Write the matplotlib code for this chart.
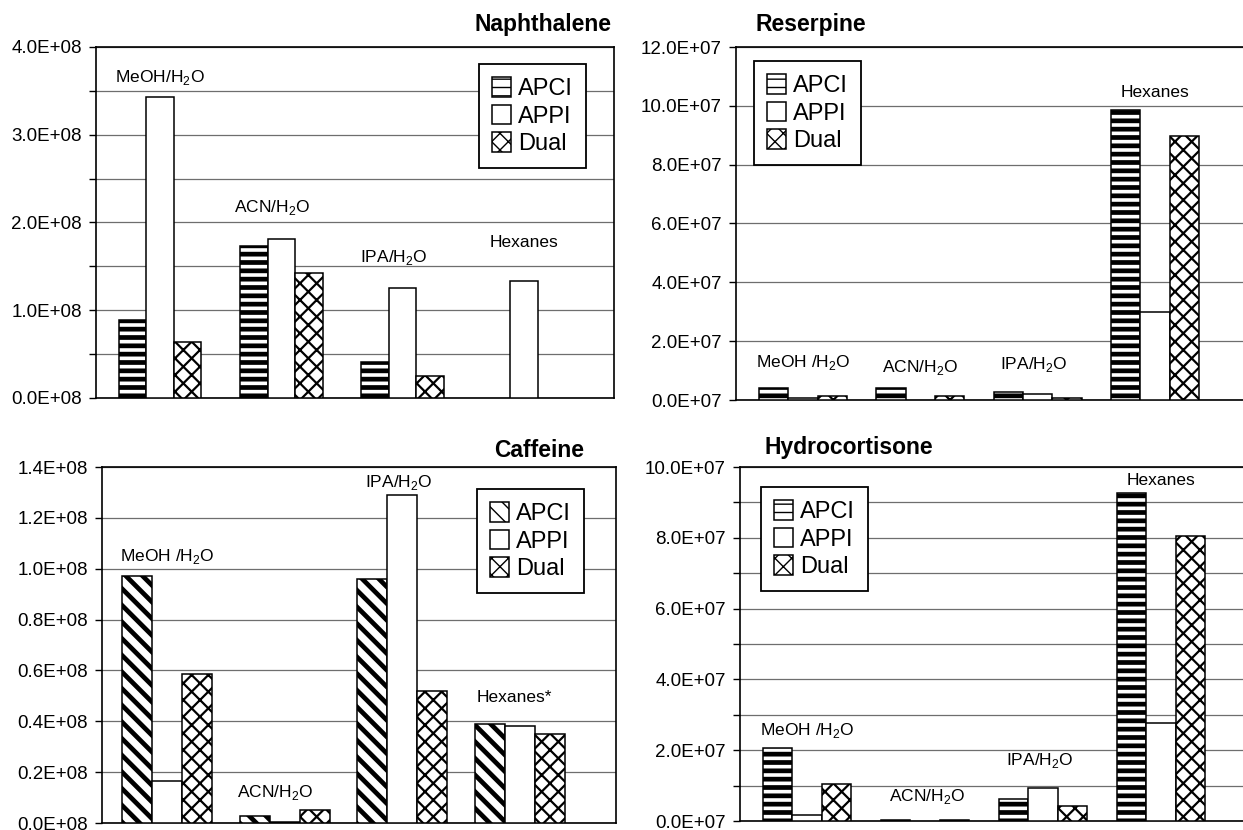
import matplotlib
matplotlib.use("Agg")
import matplotlib.pyplot as plt
import numpy as np

plt.rcParams["font.family"] = ["Liberation Sans", "DejaVu Sans"]
plt.rcParams["mathtext.fontset"] = "custom"
plt.rcParams["mathtext.rm"] = "Liberation Sans"
plt.rcParams["hatch.color"] = "black"

W, H = 1243, 830

# --- data (signal intensity per solvent system) ---
solvents = ["MeOH", "ACN", "IPA", "Hexanes"]
sources = ["APCI", "APPI", "Dual"]

naph_apci = [0.89e8, 1.73e8, 0.41e8, 0.0]
naph_appi = [3.43e8, 1.81e8, 1.25e8, 1.33e8]
naph_dual = [0.64e8, 1.42e8, 0.25e8, 0.0]

res_apci = [0.40e7, 0.40e7, 0.26e7, 9.86e7]
res_appi = [0.06e7, 0.0, 0.21e7, 3.0e7]
res_dual = [0.12e7, 0.12e7, 0.08e7, 8.97e7]

caf_apci = [0.97e8, 0.029e8, 0.96e8, 0.39e8]
caf_appi = [0.166e8, 0.002e8, 1.29e8, 0.383e8]
caf_dual = [0.587e8, 0.052e8, 0.52e8, 0.35e8]

hyd_apci = [2.05e7, 0.04e7, 0.61e7, 9.26e7]
hyd_appi = [0.17e7, 0.0, 0.93e7, 2.77e7]
hyd_dual = [1.04e7, 0.03e7, 0.42e7, 8.04e7]


def solvent_label(name, space=False):
    if name == "Hexanes":
        return name
    sep = " /" if space else "/"
    return name + sep + r"H$_\mathregular{2}$O"


def px_axes(fig, left, right, top, bottom):
    return fig.add_axes([left / W, 1 - bottom / H, (right - left) / W, (bottom - top) / H])


def draw_panel(ax, series, apci_hatch, width, xlim, ymax, ystep, label_every, exp,
               labels, label_pos, legend_xy, right_spine=True):
    x = np.arange(len(solvents))
    hatches = [apci_hatch, "", "xx"]
    lws = [3.4, 1.0, 1.6]
    for i, (vals, name) in enumerate(zip(series, sources)):
        vals = np.asarray(vals, dtype=float)
        bars = ax.bar(x + (i - 1) * width, vals, width, color="white", edgecolor="black",
                      linewidth=1.1, hatch=hatches[i], label=name, zorder=3)
        for b, v in zip(bars, vals):
            if hasattr(b, "set_hatch_linewidth"):
                b.set_hatch_linewidth(lws[i])
            if v == 0:
                b.set_visible(False)
    ax.set_xlim(*xlim)
    ax.set_ylim(0, ymax)
    ticks = np.arange(0, ymax + ystep / 2, ystep)
    ax.set_yticks(ticks)
    scale = 10.0 ** exp
    tl = []
    for k, t in enumerate(ticks):
        if k % label_every == 0:
            tl.append(f"{t / scale:.1f}E+{exp:02d}")
        else:
            tl.append("")
    ax.set_yticklabels(tl)
    ax.set_xticks([])
    ax.grid(axis="y", color="#6e6e6e", linewidth=0.9, zorder=0)
    ax.tick_params(axis="y", direction="out", length=5, width=1, labelsize=13.5, pad=5)
    for s in ["left", "bottom", "top", "right"]:
        ax.spines[s].set_linewidth(1.2)
    ax.spines["right"].set_visible(right_spine)

    for k, (txt, (dx, yv)) in enumerate(zip(labels, label_pos)):
        ax.text(k + dx, yv, txt, ha="center", va="center", fontsize=12.5, zorder=4)

    leg = ax.legend(loc="upper left", bbox_to_anchor=(legend_xy[0] / W, 1 - legend_xy[1] / H),
                    bbox_transform=fig.transFigure, fontsize=17, frameon=True, fancybox=False,
                    edgecolor="black", framealpha=1, handlelength=0.8, handleheight=0.9,
                    handletextpad=0.3, labelspacing=0.2, borderpad=0.55, borderaxespad=0)
    leg.get_frame().set_linewidth(1.3)
    leg.set_zorder(5)
    return ax


fig = plt.figure(figsize=(W / 100, H / 100), dpi=100)

# Naphthalene
ax1 = px_axes(fig, 96, 614, 47, 398)
draw_panel(ax1, [naph_apci, naph_appi, naph_dual], "--", 0.227, (-0.528, 3.743),
           4e8, 0.5e8, 2, 8,
           [solvent_label(s) for s in solvents],
           [(0, 3.65e8), (-0.08, 2.17e8), (-0.07, 1.6e8), (0, 1.77e8)],
           (479, 64))
fig.text(612 / W, 1 - 25 / H, "Naphthalene", ha="right", va="center",
         fontsize=16.5, fontweight="bold")

# Reserpine
ax2 = px_axes(fig, 736, 1243, 47, 400)
draw_panel(ax2, [res_apci, res_appi, res_dual], "--", 0.25, (-0.571, 3.75),
           12e7, 2e7, 1, 7,
           [solvent_label(s, space=(s == "MeOH")) for s in solvents],
           [(0, 1.26e7), (0, 1.09e7), (-0.03, 1.19e7), (0, 10.47e7)],
           (754, 61), right_spine=False)
fig.text(756 / W, 1 - 25 / H, "Reserpine", ha="left", va="center",
         fontsize=16.5, fontweight="bold")

# Caffeine
ax3 = px_axes(fig, 102, 616, 467, 823)
draw_panel(ax3, [caf_apci, caf_appi, caf_dual], "\\\\", 0.255, (-0.552, 3.815),
           1.4e8, 0.2e8, 1, 8,
           [solvent_label(s, space=(s == "MeOH")) for s in solvents[:3]] + ["Hexanes*"],
           [(0, 1.05e8), (-0.08, 0.118e8), (-0.03, 1.34e8), (-0.05, 0.495e8)],
           (477, 489))
fig.text(584 / W, 1 - 450 / H, "Caffeine", ha="right", va="center",
         fontsize=16.5, fontweight="bold")

# Hydrocortisone
ax4 = px_axes(fig, 740, 1243, 467, 821)
draw_panel(ax4, [hyd_apci, hyd_appi, hyd_dual], "--", 0.25, (-0.568, 3.695),
           10e7, 1e7, 2, 7,
           [solvent_label(s, space=(s == "MeOH")) for s in solvents],
           [(0, 2.57e7), (0.02, 0.68e7), (-0.03, 1.72e7), (0, 9.63e7)],
           (761, 487), right_spine=False)
fig.text(764 / W, 1 - 447 / H, "Hydrocortisone", ha="left", va="center",
         fontsize=16.5, fontweight="bold")

fig.savefig("out.png", dpi=100, facecolor="white")
